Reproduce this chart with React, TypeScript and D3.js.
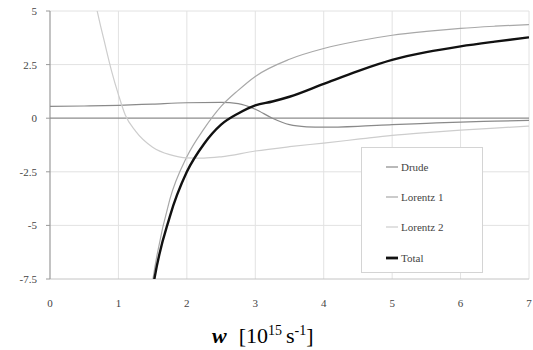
import { useEffect, useRef } from 'react'
import * as d3 from 'd3'

// x values of each series (10^15 s^-1) and their y values
const drudeX = [0, 0.5, 1, 1.5, 2, 2.5, 2.75, 3, 3.25, 3.5, 3.75, 4, 4.5, 5, 5.5, 6, 6.5, 7]
const drudeY = [0.55, 0.57, 0.6, 0.66, 0.72, 0.74, 0.68, 0.42, 0.0, -0.3, -0.4, -0.42, -0.38, -0.3, -0.24, -0.18, -0.14, -0.1]

const lorentz1X = [1.4, 1.5, 1.75, 2, 2.25, 2.5, 2.75, 3, 3.5, 4, 4.5, 5, 5.5, 6, 6.5, 7]
const lorentz1Y = [-10, -7.6, -3.8, -1.8, -0.5, 0.55, 1.3, 1.95, 2.75, 3.25, 3.6, 3.87, 4.05, 4.19, 4.29, 4.37]

const lorentz2X = [0.5, 0.6, 0.7, 0.8, 0.9, 1, 1.1, 1.25, 1.5, 1.75, 2, 2.25, 2.5, 3, 3.5, 4, 4.5, 5, 5.5, 6, 6.5, 7]
const lorentz2Y = [9.5, 6.5, 4.85, 3.5, 2.2, 1.1, 0.15, -0.6, -1.35, -1.7, -1.85, -1.86, -1.8, -1.53, -1.33, -1.16, -0.98, -0.8, -0.67, -0.56, -0.46, -0.37]

const totalX = [1.4, 1.5, 1.75, 2, 2.25, 2.5, 2.75, 3, 3.25, 3.5, 4, 4.5, 5, 5.5, 6, 6.5, 7]
const totalY = [-10.5, -8.0, -4.6, -2.5, -1.2, -0.3, 0.22, 0.6, 0.78, 1.0, 1.6, 2.2, 2.72, 3.08, 3.35, 3.57, 3.77]

const xTicks = [0, 1, 2, 3, 4, 5, 6, 7]
const yTicks = [5, 2.5, 0, -2.5, -5, -7.5]

const series = [
  { name: 'Drude', xs: drudeX, ys: drudeY, color: '#8a8a8a', width: 1.2 },
  { name: 'Lorentz 1', xs: lorentz1X, ys: lorentz1Y, color: '#a8a8a8', width: 1.2 },
  { name: 'Lorentz 2', xs: lorentz2X, ys: lorentz2Y, color: '#cdcdcd', width: 1.2 },
  { name: 'Total', xs: totalX, ys: totalY, color: '#111', width: 2.4 }
]

export default function App() {
  const svgRef = useRef<SVGSVGElement>(null)

  useEffect(() => {
    if (!svgRef.current) return
    const svg = d3.select(svgRef.current)
    svg.selectAll('*').remove()

    const x = d3.scaleLinear().domain([0, 7]).range([50, 529])
    const y = d3.scaleLinear().domain([-7.5, 5]).range([279, 11])
    const font = '"Liberation Serif", "DejaVu Serif", serif'

    svg.append('defs').append('clipPath').attr('id', 'plot')
      .append('rect').attr('x', 50).attr('y', 11).attr('width', 479).attr('height', 268)

    // grid
    const grid = svg.append('g')
    grid.selectAll('.vg').data(xTicks.slice(1)).enter().append('line')
      .attr('x1', d => x(d)).attr('x2', d => x(d)).attr('y1', y(5)).attr('y2', y(-7.5))
      .attr('stroke', '#e2e2e2').attr('stroke-width', 1)
    grid.selectAll('.hg').data(yTicks.filter(d => d !== 0)).enter().append('line')
      .attr('x1', x(0)).attr('x2', x(7)).attr('y1', d => y(d)).attr('y2', d => y(d))
      .attr('stroke', d => (d === -7.5 ? '#c4c4c4' : '#e2e2e2')).attr('stroke-width', 1)

    // axes
    svg.append('line').attr('x1', x(0)).attr('x2', x(0)).attr('y1', y(5)).attr('y2', y(-7.5))
      .attr('stroke', '#9a9a9a').attr('stroke-width', 1.2)
    svg.append('line').attr('x1', x(0)).attr('x2', x(7)).attr('y1', y(0)).attr('y2', y(0))
      .attr('stroke', '#8c8c8c').attr('stroke-width', 1.2)
    svg.selectAll('.yt').data(yTicks).enter().append('line')
      .attr('x1', x(0) - 4).attr('x2', x(0)).attr('y1', d => y(d)).attr('y2', d => y(d))
      .attr('stroke', '#9a9a9a')

    svg.selectAll('.yl').data(yTicks).enter().append('text')
      .attr('x', 37).attr('y', d => y(d) + 4)
      .attr('text-anchor', 'end')
      .style('font-family', font).style('font-size', '11px').style('fill', '#444')
      .text(d => d)
    svg.selectAll('.xl').data(xTicks).enter().append('text')
      .attr('x', d => x(d)).attr('y', 307)
      .attr('text-anchor', 'middle')
      .style('font-family', font).style('font-size', '11px').style('fill', '#444')
      .text(d => d)

    // lines
    const g = svg.append('g').attr('clip-path', 'url(#plot)')
    series.forEach(s => {
      const pts: [number, number][] = s.xs.map((v, i) => [v, s.ys[i]])
      const line = d3.line<[number, number]>()
        .x(d => x(d[0])).y(d => y(d[1]))
        .curve(d3.curveMonotoneX)
      g.append('path').datum(pts)
        .attr('d', line)
        .attr('fill', 'none')
        .attr('stroke', s.color)
        .attr('stroke-width', s.width)
    })

    // legend
    const lg = svg.append('g')
    lg.append('rect').attr('x', 361.5).attr('y', 147.5).attr('width', 121).attr('height', 125)
      .attr('fill', '#fff').attr('stroke', '#d4d4d4')
    const ly = [167, 197, 227, 258]
    series.forEach((s, i) => {
      lg.append('line').attr('x1', 386).attr('x2', 398).attr('y1', ly[i]).attr('y2', ly[i])
        .attr('stroke', s.color).attr('stroke-width', s.width + (i === 3 ? 0.4 : 0))
      lg.append('text').attr('x', 401).attr('y', ly[i] + 4)
        .style('font-family', font).style('font-size', '11px').style('fill', '#444')
        .text(s.name)
    })

    // axis title
    const t = svg.append('text').attr('x', 212).attr('y', 343)
      .style('font-family', font).style('font-size', '22px').style('fill', '#000')
    t.append('tspan').style('font-style', 'italic').style('font-weight', 'bold').text('w')
    t.append('tspan').attr('dx', 12).text('[10')
    t.append('tspan').attr('dy', -8).style('font-size', '14px').text('15')
    t.append('tspan').attr('dy', 8).attr('dx', 4).text('s')
    t.append('tspan').attr('dy', -8).style('font-size', '14px').text('-1')
    t.append('tspan').attr('dy', 8).text(']')
  }, [])

  return (
    <div style={{ position: 'absolute', left: 0, top: 0 }}>
      <svg ref={svgRef} width={533} height={350} style={{ display: 'block', background: '#fff' }} />
    </div>
  )
}
